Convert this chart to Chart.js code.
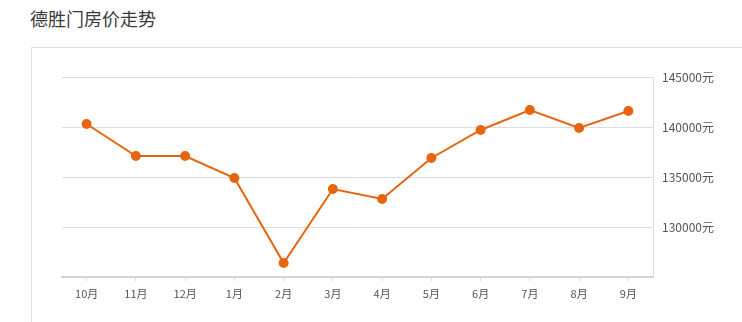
<!DOCTYPE html>
<html>
<head>
<meta charset="utf-8">
<script src="https://cdn.jsdelivr.net/npm/chart.js@4"></script>
<style>
  html, body { margin: 0; padding: 0; background: #fff; }
  body { width: 742px; height: 322px; position: relative; overflow: hidden; font-family: "Noto Sans CJK SC", "Noto Sans", sans-serif; }
  #title { position: absolute; left: 30px; top: 5px; font-size: 18px; color: #3a3a3a; }
  #card { position: absolute; left: 31px; top: 47px; width: 720px; height: 290px; border: 1px solid #e2e2e2; box-sizing: border-box; }
  #wrap { position: absolute; left: 0; top: 0; width: 742px; height: 322px; }
</style>
</head>
<body>
<div id="title">德胜门房价走势</div>
<div id="card"></div>
<div id="wrap"><canvas id="priceChart"></canvas></div>
<script>
const months = ["10月", "11月", "12月", "1月", "2月", "3月", "4月", "5月", "6月", "7月", "8月", "9月"];
const prices = [140300, 137100, 137100, 134900, 126400, 133800, 132800, 136900, 139700, 141700, 139900, 141600];
const yMin = 125000;
const yMax = 145000;
const yStep = 5000;

const orange = "#e8650f";

const ctx = document.getElementById("priceChart").getContext("2d");
new Chart(ctx, {
  type: "line",
  data: {
    labels: months,
    datasets: [{
      label: "德胜门",
      data: prices,
      borderColor: orange,
      backgroundColor: orange,
      borderWidth: 2,
      pointRadius: 4,
      pointHoverRadius: 4,
      pointBackgroundColor: orange,
      pointBorderColor: orange,
      tension: 0,
      fill: false
    }]
  },
  options: {
    responsive: true,
    maintainAspectRatio: false,
    animation: false,
    layout: { padding: { left: 62, top: 77, right: 0, bottom: 0 } },
    plugins: { legend: { display: false }, tooltip: { enabled: false } },
    scales: {
      x: {
        offset: true,
        grid: { display: true, drawOnChartArea: false, drawTicks: true, tickLength: 4, color: "#dcdcdc" },
        border: { display: true, color: "#d4d4d4", width: 2 },
        ticks: { color: "#555", font: { size: 11, family: "'Noto Sans CJK SC', sans-serif" }, padding: 6, maxRotation: 0 },
        afterFit: (axis) => { axis.height = 45; }
      },
      y: {
        position: "right",
        min: yMin,
        max: yMax,
        grid: { color: "#dedede", drawTicks: false, lineWidth: 1 },
        border: { display: true, color: "#dedede" },
        ticks: {
          stepSize: yStep,
          padding: 9,
          color: "#555",
          font: { size: 12, family: "'Noto Sans CJK SC', sans-serif" },
          callback: (v) => v === yMin ? "" : v + "元"
        },
        afterFit: (axis) => { axis.width = 89; }
      }
    }
  }
});
</script>
</body>
</html>
